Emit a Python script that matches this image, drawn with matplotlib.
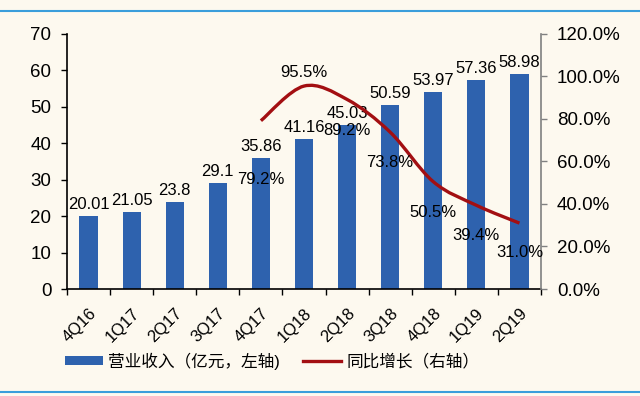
import numpy as np
import matplotlib.pyplot as plt
from matplotlib.path import Path
from matplotlib.patches import PathPatch, Patch
from matplotlib.lines import Line2D
from matplotlib.ticker import FixedLocator, PercentFormatter

plt.rcParams['font.family'] = ['Liberation Sans', 'Noto Sans CJK SC', 'DejaVu Sans']

# data
quarters = ['4Q16', '1Q17', '2Q17', '3Q17', '4Q17', '1Q18',
            '2Q18', '3Q18', '4Q18', '1Q19', '2Q19']
revenue = [20.01, 21.05, 23.8, 29.1, 35.86, 41.16, 45.03, 50.59, 53.97, 57.36, 58.98]
growth_quarters = ['4Q17', '1Q18', '2Q18', '3Q18', '4Q18', '1Q19', '2Q19']
growth = [79.2, 95.5, 89.2, 73.8, 50.5, 39.4, 31.0]

# vertical offsets (points) of the growth labels
growth_label_dy = [-42, 10, -22, -22, -22, -22, -21]

bar_color = '#2E62AE'
line_color = '#A30F12'
bg = '#FDF9EF'

fig = plt.figure(figsize=(6.4, 3.96), dpi=100, facecolor=bg)
ax = fig.add_axes([67 / 640, 1 - 289 / 396, (541 - 67) / 640, (289 - 34) / 396])
ax.set_facecolor(bg)

x = np.arange(len(quarters))
ax.bar(x, revenue, width=0.42, color=bar_color, zorder=2)
for xi, v in zip(x, revenue):
    ax.annotate(f'{v:.2f}'.rstrip('0') if v != 20.01 else '20.01', (xi, v), xytext=(0, 3),
                textcoords='offset points', ha='center', va='bottom', fontsize=12)

ax.set_xlim(-0.5, len(quarters) - 0.5)
ax.set_ylim(0, 70)
ax.set_yticks(range(0, 71, 10))
ax.tick_params(axis='y', labelsize=13.5, length=4.3, width=1, direction='out', pad=7)

# category boundaries as ticks, labels at the centres
ax.xaxis.set_major_locator(FixedLocator(np.arange(-0.5, len(quarters), 1.0)))
ax.xaxis.set_minor_locator(FixedLocator(x))
ax.set_xticklabels([])
ax.set_xticklabels(quarters, minor=True, rotation=45, ha='right', va='top',
                   rotation_mode='anchor', fontsize=12)
ax.tick_params(axis='x', which='major', length=4.3, width=1, direction='out')
ax.tick_params(axis='x', which='minor', length=0, pad=12)

ax.spines['top'].set_visible(False)
ax.spines['right'].set_visible(False)
ax.spines['left'].set_linewidth(1.2)
ax.spines['bottom'].set_linewidth(1.2)

ax2 = ax.twinx()
ax2.set_ylim(0, 120)
ax2.set_yticks(range(0, 121, 20))
ax2.yaxis.set_major_formatter(PercentFormatter(decimals=1))
ax2.tick_params(axis='y', labelsize=13.5, length=4, width=1, color='#808080',
                direction='out', pad=7.5)
for s in ['top', 'left', 'bottom']:
    ax2.spines[s].set_visible(False)
ax2.spines['right'].set_color('#808080')
ax2.spines['right'].set_linewidth(1.2)

# smoothed growth line (Catmull-Rom as cubic Bezier segments)
gx = np.array([quarters.index(q) for q in growth_quarters], dtype=float)
gy = np.array(growth, dtype=float)
pts = np.column_stack([gx, gy])
ext = np.vstack([pts[0], pts, pts[-1]])
verts = [tuple(pts[0])]
codes = [Path.MOVETO]
for i in range(1, len(ext) - 2):
    p0, p1, p2, p3 = ext[i - 1], ext[i], ext[i + 1], ext[i + 2]
    c1 = p1 + (p2 - p0) / 6
    c2 = p2 - (p3 - p1) / 6
    verts += [tuple(c1), tuple(c2), tuple(p2)]
    codes += [Path.CURVE4] * 3
ax2.add_patch(PathPatch(Path(verts, codes), facecolor='none', edgecolor=line_color,
                        lw=2.4, capstyle='butt', zorder=3))
for xi, v, dy in zip(gx, growth, growth_label_dy):
    ax2.annotate(f'{v:.1f}%', (xi, v), xytext=(0, dy), textcoords='offset points',
                 ha='center', va='center', fontsize=12)

handles = [Patch(facecolor=bar_color, edgecolor='none'),
           Line2D([], [], color=line_color, lw=2.4)]
fig.legend(handles, ['营业收入（亿元，左轴)', '同比增长（右轴）'], loc='center',
           bbox_to_anchor=(0.425, 1 - 361 / 396), ncol=2, frameon=False, fontsize=12,
           handlelength=2.3, handleheight=0.5, handletextpad=0.3, columnspacing=1.4)

# thin blue frame lines at top and bottom
for yy in (1 - 11 / 396, 1 - 392 / 396):
    fig.add_artist(Line2D([0, 1], [yy, yy], transform=fig.transFigure,
                          color='#3B9EDB', lw=1.5))

fig.savefig('out.png', dpi=100, facecolor=bg)
